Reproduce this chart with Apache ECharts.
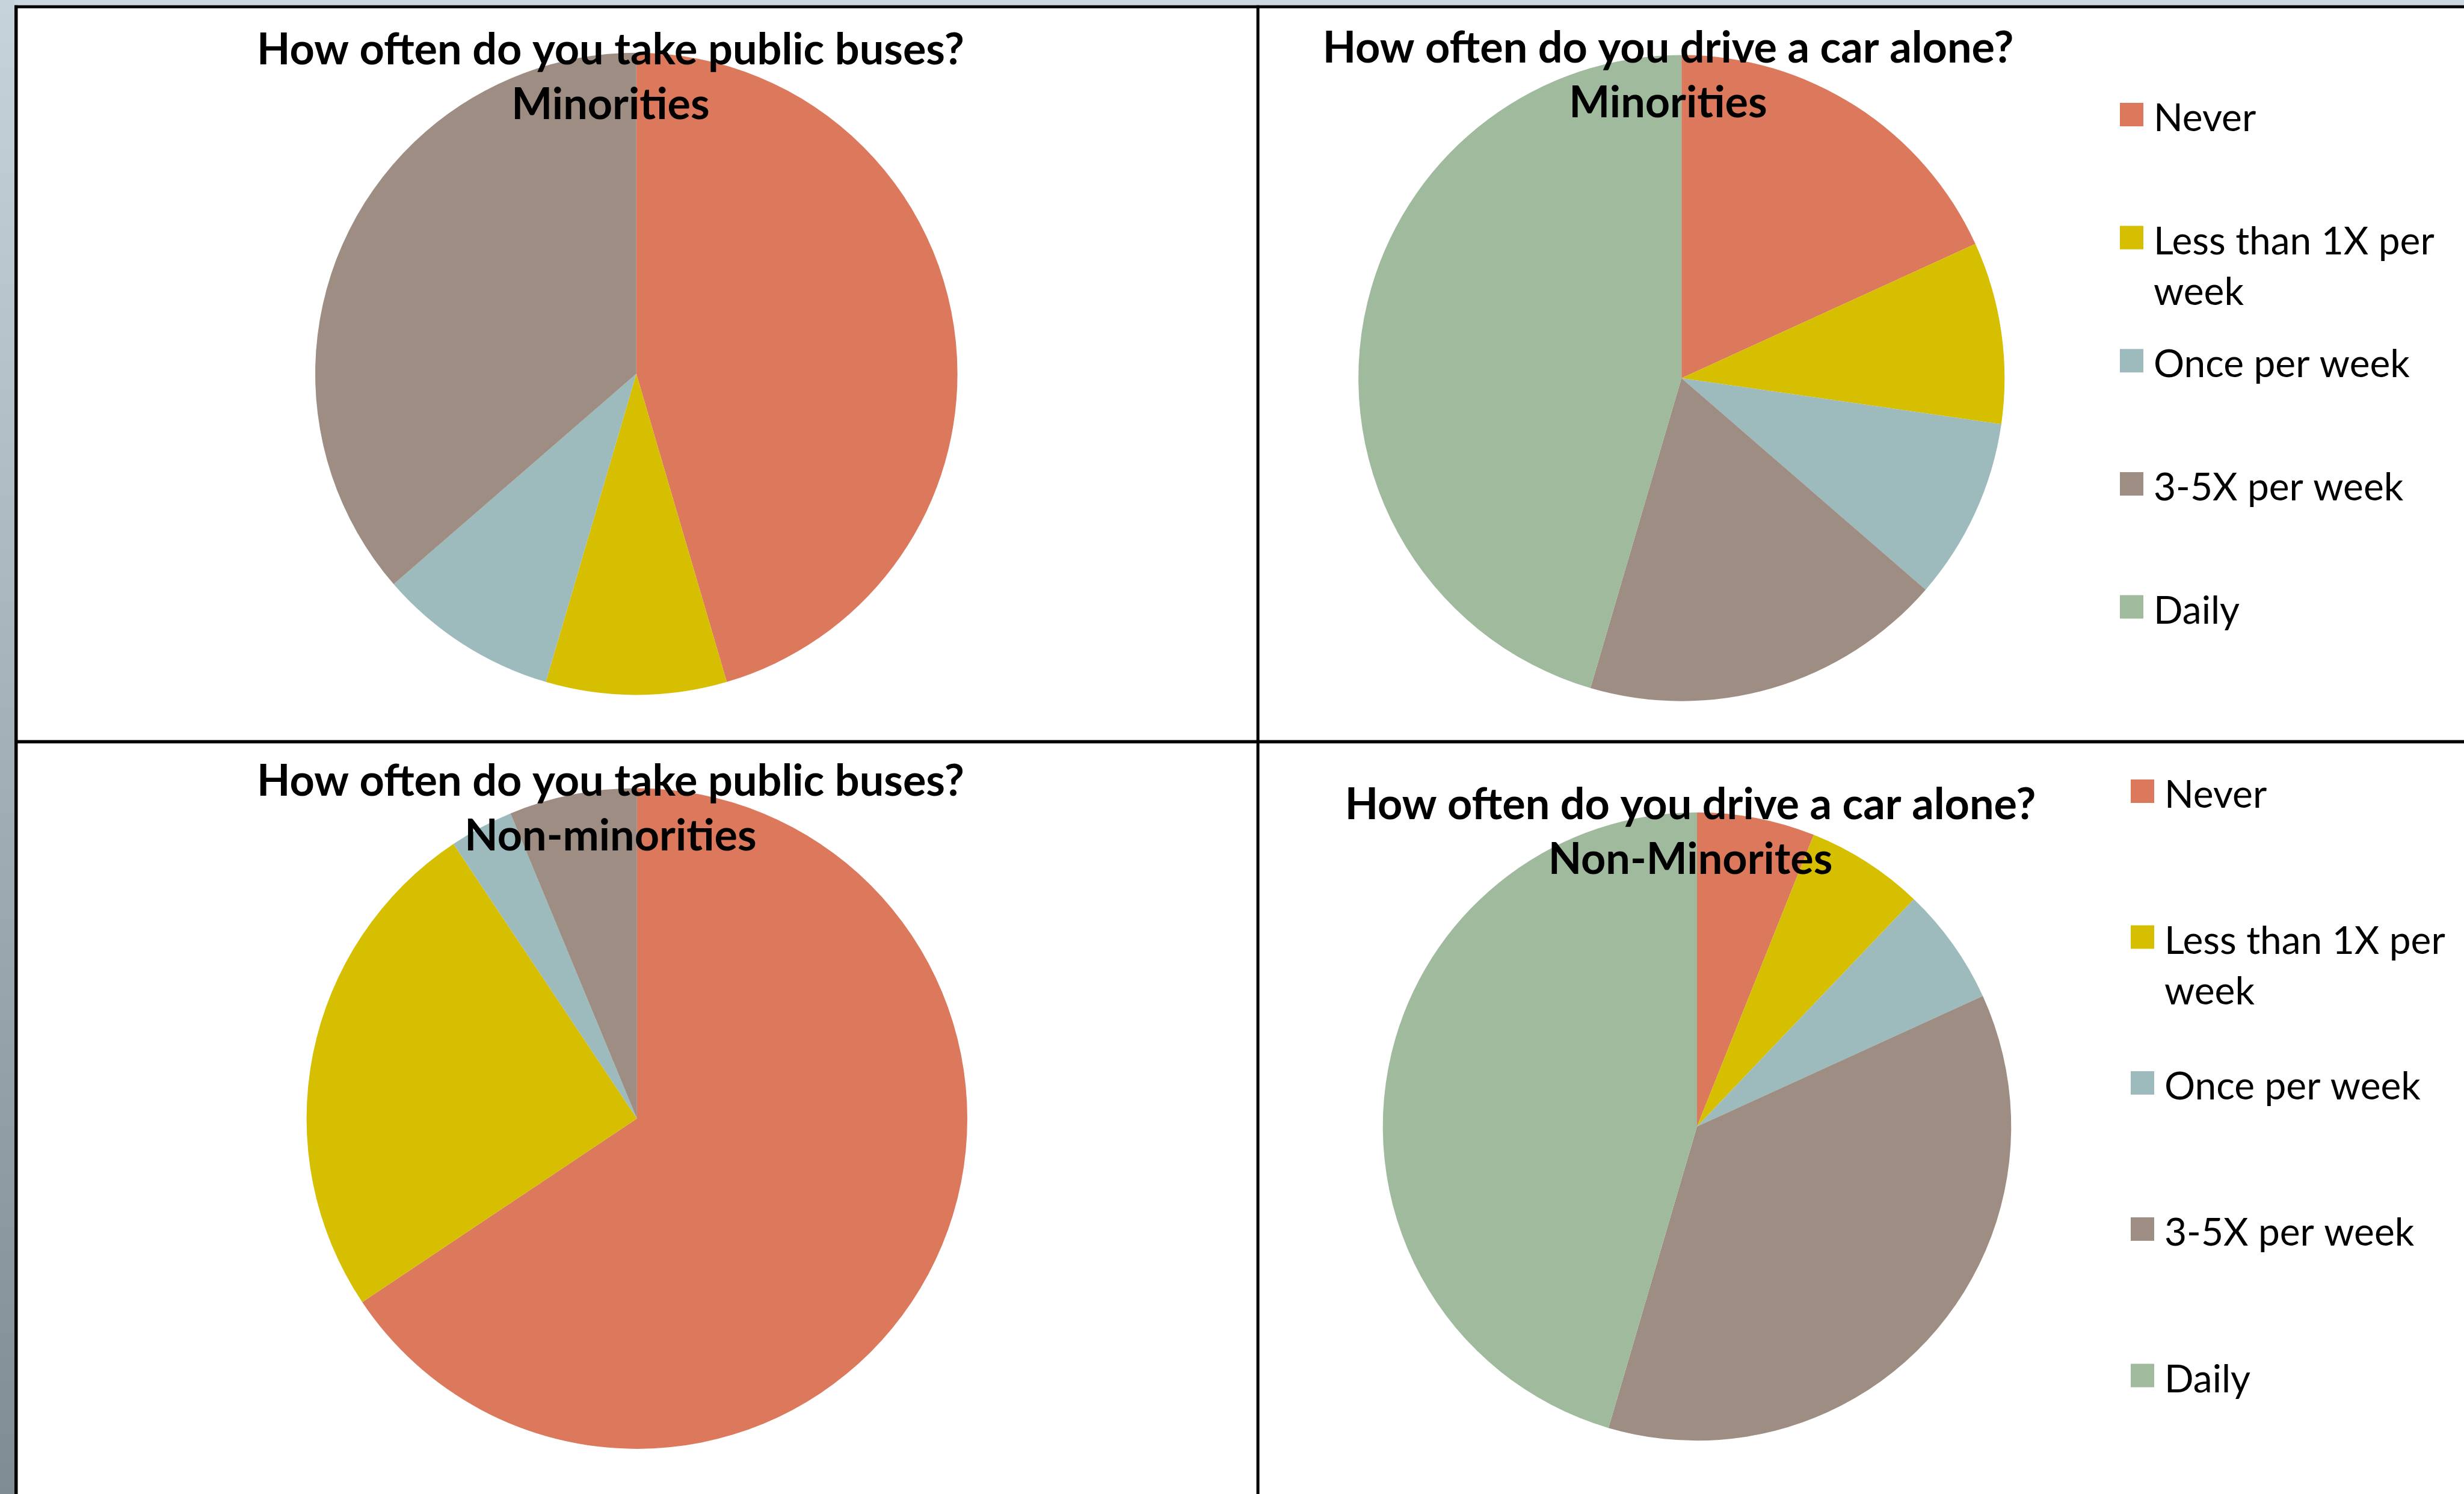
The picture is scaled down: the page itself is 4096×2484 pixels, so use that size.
<!DOCTYPE html>
<html>
<head>
<meta charset="utf-8">
<title>Travel frequency survey</title>
<script src="https://cdn.jsdelivr.net/npm/echarts@6/dist/echarts.min.js"></script>
<style>
  html, body { margin: 0; padding: 0; background: #ffffff; }
  #chart { width: 4096px; height: 2484px; }
</style>
</head>
<body>
<div id="chart"></div>
<script>
// Answer categories shared by all four pies
const categories = ['Never', 'Less than 1X per week', 'Once per week', '3-5X per week', 'Daily'];

// Respondent counts per category
const busMinorities = [5, 1, 1, 4, 0];
const carMinorities = [2, 1, 1, 2, 5];
const busNonMinorities = [21, 8, 1, 2, 0];
const carNonMinorities = [2, 2, 2, 12, 15];

// Question and group headings
const questionBus = 'How often do you take public buses?';
const questionCar = 'How often do you drive a car alone?';
const groupTopLeft = 'Minorities';
const groupTopRight = 'Minorities';
const groupBottomLeft = 'Non-minorities';
const groupBottomRight = 'Non-Minorites';

const palette = ['#dc795c', '#d6bf00', '#9dbabd', '#9e8d82', '#9fba9d'];

const chart = echarts.init(document.getElementById('chart'), null, { renderer: 'canvas' });

function pie(values, center, radius) {
  return {
    type: 'pie',
    center: center,
    radius: radius,
    startAngle: 90,
    clockwise: true,
    silent: true,
    animation: false,
    label: { show: false },
    labelLine: { show: false },
    emphasis: { disabled: true },
    itemStyle: { borderWidth: 0 },
    data: categories.map((name, i) => ({ name: name, value: values[i] }))
  };
}

const TITLE_SIZE = 72;
const TITLE_LH = 91;
function heading(lines, cx, top) {
  return {
    text: lines.join('\n'),
    left: cx,
    top: top,
    textAlign: 'center',
    padding: 0,
    textStyle: {
      fontFamily: 'Lato',
      fontWeight: 'bold',
      fontSize: TITLE_SIZE,
      lineHeight: TITLE_LH,
      color: '#000000'
    }
  };
}

// One legend block per entry so the rows keep an even pitch.
// The text box gets a transparent background so its padded box sets the layout,
// and the top padding drops the first text line slightly below the swatch centre.
const LEG_LH = 84;
const LEG_DROP = 14;
function legendItems(left, centers) {
  return categories.map((name, i) => {
    const twoLine = i === 1;
    const padTop = twoLine ? LEG_LH + LEG_DROP : LEG_DROP;
    const boxH = (twoLine ? 2 : 1) * LEG_LH + padTop;
    return {
      data: [name],
      orient: 'vertical',
      left: left,
      top: centers[i] - boxH / 2,
      padding: 0,
      icon: 'rect',
      itemWidth: 39,
      itemHeight: 39,
      selectedMode: false,
      textStyle: {
        fontFamily: 'Lato',
        fontSize: 64,
        lineHeight: LEG_LH,
        color: '#000000',
        width: 500,
        overflow: 'break',
        backgroundColor: 'rgba(255,255,255,0)',
        padding: [padTop, 0, 0, 12],
        rich: { plain: { fontFamily: 'Lato', fontSize: 64, lineHeight: LEG_LH } }
      }
    };
  });
}

const option = {
  animation: false,
  backgroundColor: '#ffffff',
  color: palette,
  graphic: [
    { type: 'rect', z: -10, shape: { x: 0, y: 0, width: 4096, height: 9 }, style: { fill: '#cbd8df' } },
    { type: 'rect', z: -10, shape: { x: 0, y: 0, width: 24, height: 2484 },
      style: { fill: new echarts.graphic.LinearGradient(0, 0, 0, 1, [
        { offset: 0, color: '#c5d3db' },
        { offset: 0.5, color: '#a2b0b7' },
        { offset: 1, color: '#7f8c94' }
      ]) } },
    { type: 'rect', z: 10, shape: { x: 24, y: 8.8, width: 4072, height: 5 }, style: { fill: '#000000' } },
    { type: 'rect', z: 10, shape: { x: 24, y: 8.8, width: 5.5, height: 2476 }, style: { fill: '#000000' } },
    { type: 'rect', z: 10, shape: { x: 2088.6, y: 8.8, width: 5, height: 2476 }, style: { fill: '#000000' } },
    { type: 'rect', z: 10, shape: { x: 24, y: 1230.6, width: 4072, height: 5.4 }, style: { fill: '#000000' } }
  ],
  title: [
    heading([questionBus, groupTopLeft], 1015, 38),
    heading([questionCar, groupTopRight], 2773, 35),
    heading([questionBus, groupBottomLeft], 1015, 1254),
    heading([questionCar, groupBottomRight], 2810, 1293)
  ],
  legend: [].concat(
    legendItems(3524, [190.4, 395, 599.7, 804.4, 1009]),
    legendItems(3542, [1315.6, 1558, 1800.5, 2043.6, 2287])
  ),
  series: [
    pie(busMinorities, [1057.8, 621.6], 533.8),
    pie(carMinorities, [2795.2, 628.7], 537.1),
    pie(busNonMinorities, [1058.8, 1859.8], 549.2),
    pie(carNonMinorities, [2821, 1873], 522.3)
  ]
};

chart.setOption(option);
</script>
</body>
</html>
